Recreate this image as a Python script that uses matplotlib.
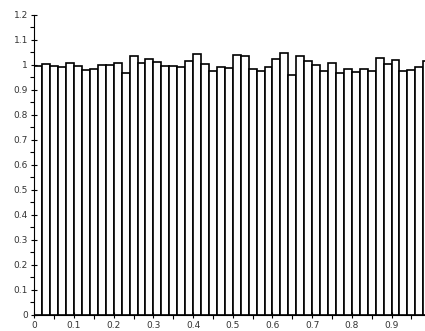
import numpy as np
import matplotlib.pyplot as plt
from matplotlib.ticker import MultipleLocator

# bin edges of the normalised histogram (50 bins on [0, 1])
bin_edges = np.linspace(0, 1, 51)
densities = [0.995, 1.002, 0.997, 0.993, 1.008, 0.994, 0.980, 0.983, 1.000, 1.000,
             1.006, 0.968, 1.036, 1.008, 1.023, 1.011, 0.996, 0.997, 0.991, 1.016,
             1.043, 1.003, 0.977, 0.990, 0.987, 1.040, 1.037, 0.983, 0.977, 0.992,
             1.024, 1.047, 0.960, 1.035, 1.017, 1.000, 0.977, 1.007, 0.969, 0.983,
             0.970, 0.985, 0.975, 1.028, 1.005, 1.019, 0.977, 0.979, 0.993, 1.016]
x_ticks = [0, 0.1, 0.2, 0.3, 0.4, 0.5, 0.6, 0.7, 0.8, 0.9]
x_labels = ["0", "0.1", "0.2", "0.3", "0.4", "0.5", "0.6", "0.7", "0.8", "0.9"]
y_ticks = [0, 0.1, 0.2, 0.3, 0.4, 0.5, 0.6, 0.7, 0.8, 0.9, 1, 1.1, 1.2]
y_labels = ["0", "0.1", "0.2", "0.3", "0.4", "0.5", "0.6", "0.7", "0.8", "0.9", "1", "1.1", "1.2"]

fig = plt.figure(figsize=(4.25, 3.31), dpi=100)
ax = fig.add_axes([0.0807, 0.0498, 0.934, 0.905])

ax.bar(bin_edges[:-1], densities, width=np.diff(bin_edges), align="edge",
       color="white", edgecolor="black", linewidth=1.2)

ax.set_xlim(0, 1)
ax.set_ylim(0, 1.2)
ax.set_xticks(x_ticks)
ax.set_xticklabels(x_labels, fontsize=6.5, color="#333333")
ax.set_yticks(y_ticks)
ax.set_yticklabels(y_labels, fontsize=6.5, color="#333333")
ax.xaxis.set_minor_locator(MultipleLocator(0.05))
ax.yaxis.set_minor_locator(MultipleLocator(0.05))
ax.tick_params(which="major", direction="inout", length=5, width=0.8, pad=2)
ax.tick_params(which="minor", direction="out", length=3, width=0.8)

for side in ["top", "right"]:
    ax.spines[side].set_visible(False)
ax.spines["left"].set_linewidth(0.8)
ax.spines["bottom"].set_linewidth(0.8)

fig.savefig("out.png", dpi=100)
